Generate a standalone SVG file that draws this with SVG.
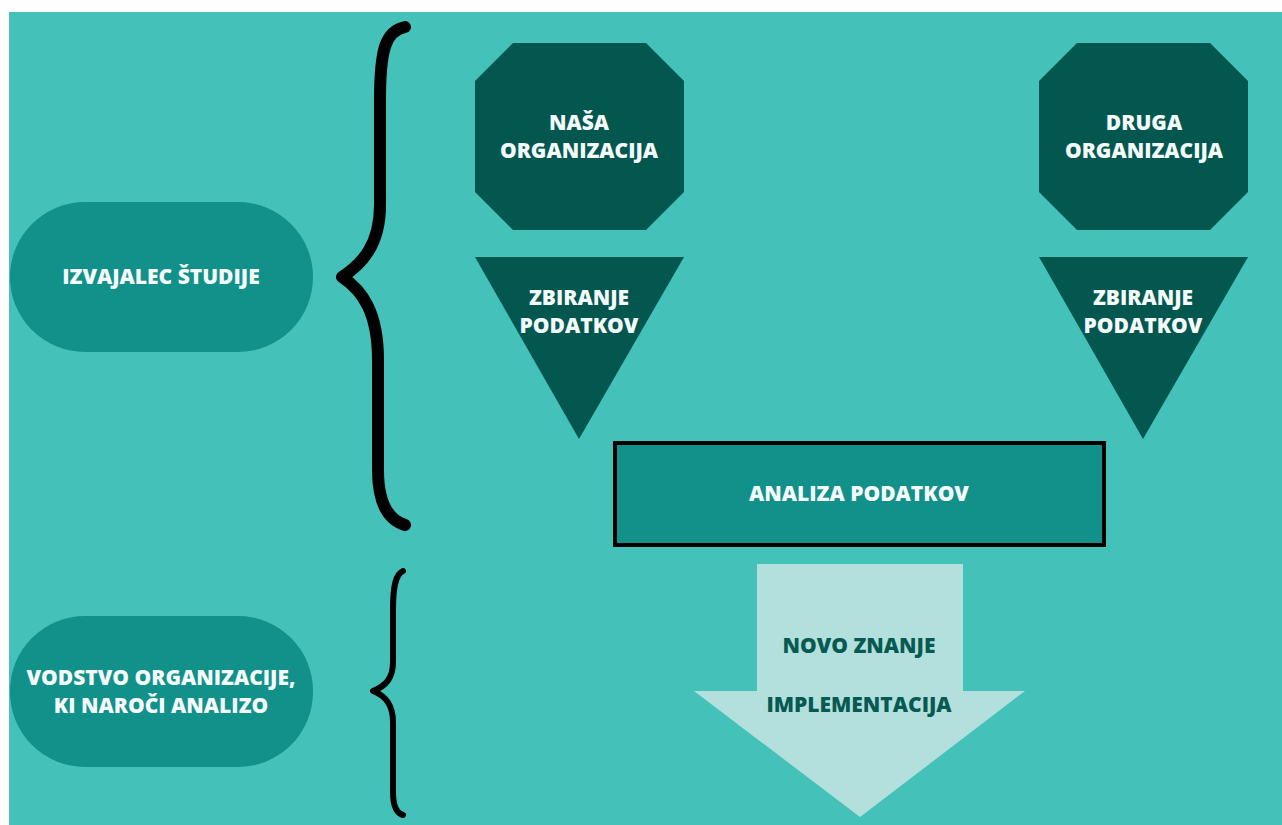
<svg xmlns="http://www.w3.org/2000/svg" width="1282" height="825" viewBox="0 0 1282 825">
  <style>
    .lbl { font-family: "Open Sans", "Liberation Sans", sans-serif; font-weight: 800; font-size: 21px; text-anchor: middle; }
    .light { fill: #f4fbfa; }
    .dark { fill: #075a52; }
    .pill { fill: #12908a; }
    .deep { fill: #03574f; }
    .brace { fill: none; stroke: #000; stroke-linecap: round; stroke-linejoin: round; }
  </style>

  <!-- page -->
  <rect x="0" y="0" width="1282" height="825" fill="#ffffff"/>
  <rect x="9" y="12" width="1273" height="813" fill="#44c1b9"/>

  <!-- role labels -->
  <g id="izvajalec">
    <rect class="pill" x="10" y="202" width="303" height="150" rx="75"/>
    <text class="lbl light" x="161" y="284">IZVAJALEC ŠTUDIJE</text>
  </g>
  <g id="vodstvo">
    <rect class="pill" x="10" y="616" width="303" height="151" rx="75"/>
    <text class="lbl light" x="161" y="685">VODSTVO ORGANIZACIJE,</text>
    <text class="lbl light" x="161" y="713">KI NAROČI ANALIZO</text>
  </g>

  <!-- organisations -->
  <g id="nasa-organizacija">
    <polygon class="deep" points="513,43 646,43 684,81 684,192 646,230 513,230 475,192 475,81"/>
    <text class="lbl light" x="579" y="130">NAŠA</text>
    <text class="lbl light" x="579" y="158">ORGANIZACIJA</text>
  </g>
  <g id="druga-organizacija">
    <polygon class="deep" points="1077,43 1210,43 1248,81 1248,192 1210,230 1077,230 1039,192 1039,81"/>
    <text class="lbl light" x="1144" y="130">DRUGA</text>
    <text class="lbl light" x="1144" y="158">ORGANIZACIJA</text>
  </g>

  <!-- data collection -->
  <g id="zbiranje-1">
    <polygon class="deep" points="475,257 684,257 579,439"/>
    <text class="lbl light" x="579" y="305">ZBIRANJE</text>
    <text class="lbl light" x="579" y="333">PODATKOV</text>
  </g>
  <g id="zbiranje-2">
    <polygon class="deep" points="1039,257 1248,257 1143,439"/>
    <text class="lbl light" x="1143" y="305">ZBIRANJE</text>
    <text class="lbl light" x="1143" y="333">PODATKOV</text>
  </g>

  <!-- analysis -->
  <g id="analiza">
    <rect x="615" y="443" width="489" height="102" fill="#12908a" stroke="#000" stroke-width="4"/>
    <text class="lbl light" x="859" y="501">ANALIZA PODATKOV</text>
  </g>

  <!-- outcome -->
  <g id="novo-znanje">
    <polygon points="757,564 963,564 963,691 1025,691 860,817 694,691 757,691" fill="#b3e0dd"/>
    <text class="lbl dark" x="859" y="653">NOVO ZNANJE</text>
    <text class="lbl dark" x="859" y="712">IMPLEMENTACIJA</text>
  </g>

  <!-- braces -->
  <g id="connectors">
    <path class="brace" stroke-width="12" d="M 405 27 C 386 31, 380 48, 380 100 L 380 205 C 380 245, 362 264, 342 277 C 362 290, 378 312, 378 360 L 378 470 C 378 505, 389 520, 405 525"/>
    <path class="brace" stroke-width="6" d="M 403 571 C 396 574, 393 585, 393 610 L 393 662 C 393 678, 386 686, 373 691 C 386 696, 393 705, 393 722 L 393 792 C 393 806, 396 813, 403 815"/>
  </g>
</svg>
